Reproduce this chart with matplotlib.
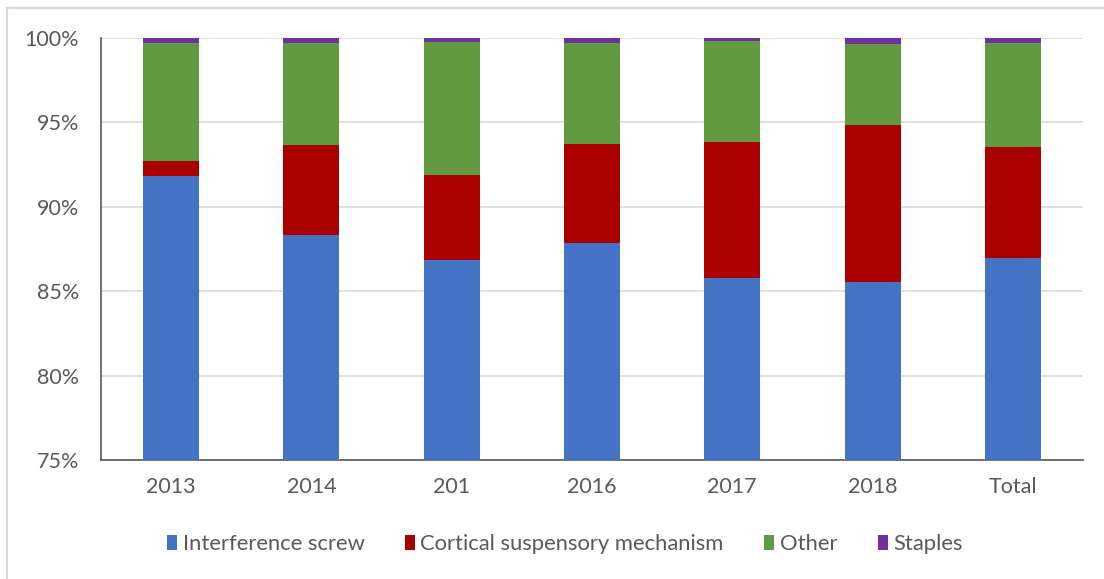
import matplotlib.pyplot as plt
from matplotlib.lines import Line2D
from matplotlib.patches import Patch
from matplotlib.ticker import FuncFormatter

# Category labels (as printed on the chart)
categories = ['2013', '2014', '201', '2016', '2017', '2018', 'Total']

# Share of each fixation method (%)
interference_screw = [91.8, 88.3, 86.85, 87.85, 85.8, 85.55, 86.95]
cortical_suspensory = [0.9, 5.35, 5.05, 5.85, 8.05, 9.3, 6.6]
other = [7.0, 6.05, 7.85, 6.0, 5.95, 4.8, 6.15]
staples = [0.3, 0.3, 0.25, 0.3, 0.2, 0.35, 0.3]

series = [
    ('Interference screw', interference_screw, '#4472c4'),
    ('Cortical suspensory mechanism', cortical_suspensory, '#aa0000'),
    ('Other', other, '#629b3f'),
    ('Staples', staples, '#7030a0'),
]

plt.rcParams['font.family'] = ['Lato', 'DejaVu Sans']

fig = plt.figure(figsize=(11.04, 5.79), dpi=100)
ax = fig.add_axes([101 / 1104, 1 - 460 / 579, (1083 - 101) / 1104, (460 - 38) / 579])

x = range(len(categories))
bottom = [0.0] * len(categories)
for name, vals, color in series:
    ax.bar(x, vals, width=0.4, bottom=bottom, color=color, label=name, zorder=3)
    bottom = [b + v for b, v in zip(bottom, vals)]

ax.set_xlim(-0.5, len(categories) - 0.5)
ax.set_ylim(75, 100)
ax.set_yticks([75, 80, 85, 90, 95, 100])
ax.yaxis.set_major_formatter(FuncFormatter(lambda v, p: f'{v:.0f}%'))
ax.set_xticks(list(x))
ax.set_xticklabels(categories)
ax.tick_params(axis='both', length=0, labelsize=15.5, colors='#595959')
ax.tick_params(axis='x', pad=12)
ax.tick_params(axis='y', pad=16)
ax.grid(axis='y', color='#d9d9d9', linewidth=1.2, zorder=0)

for side in ['top', 'right']:
    ax.spines[side].set_visible(False)
for side in ['left', 'bottom']:
    ax.spines[side].set_color('#595959')
    ax.spines[side].set_linewidth(1.2)

handles = [Patch(facecolor=c, label=n) for n, _, c in series]
fig.legend(handles=handles, loc='center', bbox_to_anchor=(565 / 1104, 1 - 544 / 579),
           ncol=4, frameon=False, fontsize=15.8, handlelength=0.45, handleheight=0.7,
           handletextpad=0.25, columnspacing=1.85, labelcolor='#595959')

# light chart border (top and left edges visible in the crop)
fig.add_artist(Line2D([7 / 1104, 1], [1 - 8 / 579, 1 - 8 / 579], color='#d9d9d9', lw=1.5))
fig.add_artist(Line2D([7 / 1104, 7 / 1104], [0, 1 - 8 / 579], color='#d9d9d9', lw=1.5))

fig.savefig('out.png', dpi=100)
